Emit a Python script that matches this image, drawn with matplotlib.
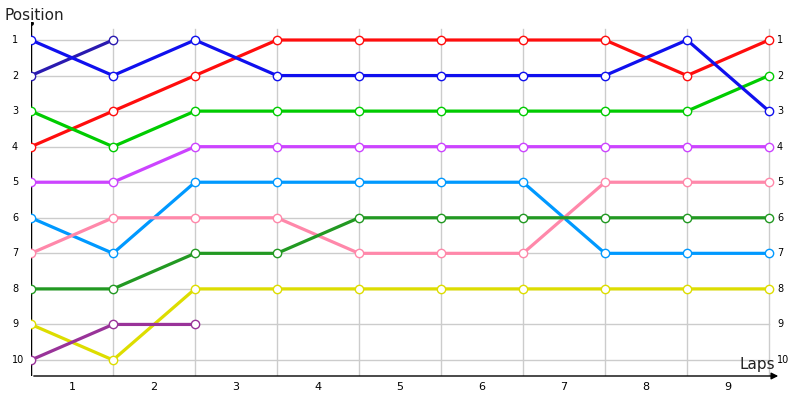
import matplotlib
matplotlib.use("Agg")
import matplotlib.pyplot as plt

# data ----------------------------------------------------------
laps = [0, 1, 2, 3, 4, 5, 6, 7, 8, 9]
lap_labels = ["1", "2", "3", "4", "5", "6", "7", "8", "9"]
positions = list(range(1, 11))

blue       = [1, 2, 1, 2, 2, 2, 2, 2, 1, 3]
navy       = [2, 1]
red        = [4, 3, 2, 1, 1, 1, 1, 1, 2, 1]
green      = [3, 4, 3, 3, 3, 3, 3, 3, 3, 2]
violet     = [5, 5, 4, 4, 4, 4, 4, 4, 4, 4]
sky        = [6, 7, 5, 5, 5, 5, 5, 7, 7, 7]
pink       = [7, 6, 6, 6, 7, 7, 7, 5, 5, 5]
darkgreen  = [8, 8, 7, 7, 6, 6, 6, 6, 6, 6]
yellow     = [9, 10, 8, 8, 8, 8, 8, 8, 8, 8]
plum       = [10, 9, 9]

series = [
    (red, "#ff0d0d"),
    (green, "#00cc00"),
    (violet, "#cc44ff"),
    (sky, "#0099ff"),
    (pink, "#ff88aa"),
    (darkgreen, "#229922"),
    (yellow, "#dddd00"),
    (plum, "#993399"),
    (navy, "#2a1ab0"),
    (blue, "#1010ee"),
]

# figure --------------------------------------------------------
W, H = 800, 400
fig = plt.figure(figsize=(8, 4), dpi=100)
x0, x1 = 31, 781
y_top, y_bot = 22, 376
ax = fig.add_axes([x0 / W, 1 - y_bot / H, (x1 - x0) / W, (y_bot - y_top) / H])
dx = (769 - 31) / 9
dy = (360 - 40) / 9
ax.set_xlim(0, (x1 - x0) / dx)
ax.set_ylim(10 + (y_bot - 360) / dy, 1 - (40 - y_top) / dy)
ax.axis("off")

# grid
gtop = 1 - (40 - 29) / dy
for x in laps:
    ax.plot([x, x], [ax.get_ylim()[0], gtop], color="#cccccc", lw=1, zorder=1)
for p in positions:
    ax.plot([0, 9], [p, p], color="#cccccc", lw=1, zorder=1)

# axes with arrows
ax.annotate("", xy=(ax.get_xlim()[1], ax.get_ylim()[0]), xytext=(0, ax.get_ylim()[0]),
            arrowprops=dict(arrowstyle="-|>", color="black", lw=1, mutation_scale=10), zorder=2)
ax.plot([0, 0], [ax.get_ylim()[0], ax.get_ylim()[1] + 0.03], color="black", lw=1, zorder=2)
ax.plot([0], [ax.get_ylim()[1] + 0.03], marker="o", color="black", ms=2.5, zorder=2)

# lines
for vals, col in series:
    ax.plot(laps[:len(vals)], vals, color=col, lw=2.3, marker="o", ms=6,
            mfc="white", mec=col, mew=1, zorder=3, solid_capstyle="butt")

# labels
for p in positions:
    ax.text(-19 / dx, p, str(p), fontsize=7, ha="left", va="center")
    ax.text(9 + 8 / dx, p, str(p), fontsize=7, ha="left", va="center")
for i, lab in enumerate(lap_labels):
    ax.text(i + 0.5, 10 + (387 - 360) / dy, lab, fontsize=8, ha="center", va="center")

fig.text(4 / W, 1 - 16 / H, "Position", fontsize=11, ha="left", va="center", color="#222222")
fig.text(775 / W, 1 - 364 / H, "Laps", fontsize=11, ha="right", va="center", color="#222222")

fig.savefig("out.png", dpi=100)
